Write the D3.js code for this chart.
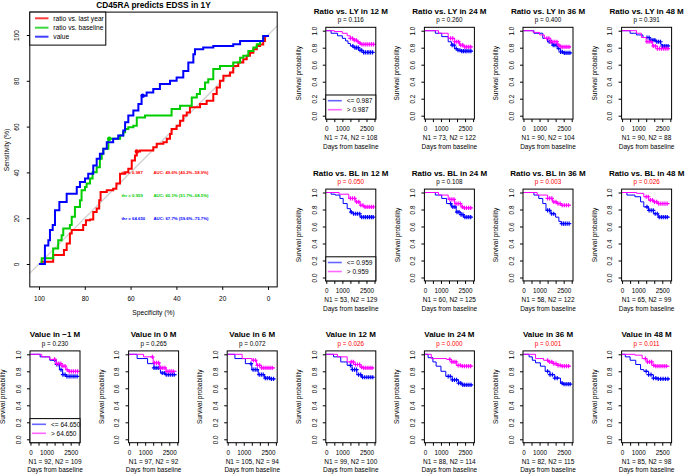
<!DOCTYPE html>
<html>
<head>
<meta charset="utf-8">
<script src="https://cdn.jsdelivr.net/npm/d3@7"></script>
<style>
  body { margin: 0; background: #fff; }
  svg { display: block; font-family: "Liberation Sans", Arial, sans-serif; }
</style>
</head>
<body>
<svg></svg>
<script>
// ---------- ROC data (specificity %, sensitivity %) ----------
const rocNames = ["ratio vs. last year", "ratio vs. baseline", "value"];
const rocRed = [[100,0],[98.8,1],[95.9,1],[93.8,3.9],[90.1,3.9],[89.1,6.1],[87.9,9],[86.5,13.3],[85.7,14.8],[82.1,14.8],[80.7,17],[79.5,19.1],[77.7,19.4],[76.3,22.7],[74.8,24.2],[73.7,27.8],[73.1,31.4],[70.4,32.2],[67.6,32.9],[66.2,35.1],[64.6,39.4],[62.4,40.1],[61,41.6],[59.5,45.2],[58.1,47.4],[57.3,49.1],[55.9,49.6],[52.3,49.6],[50.1,51],[48.6,52.5],[45.7,53.2],[44.2,54.7],[42.8,56.8],[42.1,59],[39.9,60.4],[38.4,62.6],[37,64.8],[35.5,66.2],[34.1,68.4],[29.7,69.9],[26.8,71.3],[23.9,74.2],[22.4,77.1],[21,80],[19.5,82.2],[16.6,83.6],[15.2,86.5],[13,88],[10.8,89.4],[9.3,90.9],[7.9,92.3],[6.4,93.8],[4.9,95.2],[3.5,95.9],[2.1,97.4],[1.3,99.6],[0,100]];
const rocGreen = [[100,0],[98.8,2.5],[95.2,2.5],[93.8,6.8],[91.6,10.4],[90.1,12.6],[89.4,15.5],[86.5,17],[85.7,20.6],[84.3,24.9],[82.1,27.8],[81.4,32.2],[79.9,33.6],[79.2,35.1],[77.7,37.3],[76.6,40.1],[74.8,42.3],[73.4,46],[72.6,48.1],[71.9,50.3],[69.7,54.7],[66.8,54.7],[64.6,56.1],[63.2,57.5],[62.4,59],[61,59.7],[58.8,60.4],[57.3,64],[53.7,64.8],[42.8,64.8],[42.1,67.7],[38.4,69.1],[33.3,71.3],[33.3,72.7],[31.1,74.2],[29.7,76.4],[27.5,79.3],[26.1,80.7],[23.9,83.6],[23.9,85.1],[21,86.5],[16.6,86.5],[15.2,88],[12.2,90.1],[10.8,90.9],[8.6,93],[6.4,94.5],[4.9,96],[3.5,97.4],[2.1,99.6],[0,100]];
const rocBlue = [[100,0],[97.4,8.1],[95.9,10.4],[95.2,14.8],[94,17],[93,23.5],[91.1,27.1],[87.9,30.7],[83.5,33.6],[82.1,35.8],[79.9,37.3],[78.5,39.4],[76.3,43],[74.8,46],[73.4,48.1],[71.9,50.3],[70.4,53.2],[67.6,54.7],[65.4,56.1],[63.2,58.3],[62.4,61.9],[61,64.8],[58.8,67],[56.6,69.9],[55.2,73.5],[53,74.9],[50.1,76.4],[47.2,78.6],[42.8,80],[39.9,81.4],[37,84.3],[34.8,88],[32.6,91.6],[31.9,93.8],[28.3,94.5],[23.9,95.2],[15.2,96],[12.2,97.4],[3.5,97.4],[2.1,99.6],[0,100]];
const rocThr = [[57.3,49.1],[69.3,54.7],[54.7,73.5]];
const rocThrLabels = ["thr = 0.987", "thr = 0.959", "thr = 64.650"];
const rocAuc = ["AUC: 49.6% (40.2%..58.9%)", "AUC: 60.1% (51.7%..68.5%)", "AUC: 67.7% (59.6%..75.7%)"];
const rocTicks = [0, 20, 40, 60, 80, 100];

// ---------- Kaplan-Meier panels ----------
const kmTitles = ["Ratio vs. LY in 12 M","Ratio vs. LY in 24 M","Ratio vs. LY in 36 M","Ratio vs. LY in 48 M",
  "Ratio vs. BL in 12 M","Ratio vs. BL in 24 M","Ratio vs. BL in 36 M","Ratio vs. BL in 48 M",
  "Value in \u22121 M","Value in 0 M","Value in 6 M","Value in 12 M","Value in 24 M","Value in 36 M","Value in 48 M"];
const kmPvalues = ["0.116","0.260","0.400","0.391","0.050","0.108","0.003","0.026","0.230","0.265","0.072","0.026","0.000","0.001","0.011"];
const kmN = [[74,108],[73,122],[90,104],[90,88],[53,129],[60,125],[58,122],[65,99],[92,109],[97,92],[105,94],[99,100],[88,114],[82,115],[85,98]];
const kmLegendPanels = [0, 4, 8];
const kmCutoffs = ["0.987", "0.959", "64.650"];
const kmYTicks = [0, 0.2, 0.4, 0.6, 0.8, 1];
const kmXTicks = [0, 500, 1000, 1500, 2000, 2500, 3000];
const kmXLabels = ["0", "", "1000", "", "", "2500", ""];

// [day, survival after that day]
const kmBlue = [
  [[0,1],[300,.97],[700,.94],[1000,.91],[1200,.88],[1350,.85],[1500,.82],[1750,.80],[2000,.77],[2300,.745],[2950,.745]],
  [[0,1],[650,.97],[1050,.93],[1450,.87],[1650,.83],[1850,.79],[2050,.77],[2200,.76],[2950,.76]],
  [[0,1],[650,.97],[1200,.91],[1500,.87],[1800,.83],[2100,.79],[2300,.75],[2450,.74],[2950,.74]],
  [[0,1],[500,.97],[900,.95],[1300,.92],[1700,.89],[2100,.87],[2400,.84],[2500,.82],[2950,.82]],
  [[0,1],[300,.98],[550,.97],[850,.93],[1050,.87],[1300,.81],[1500,.77],[1700,.75],[2100,.71],[2950,.71]],
  [[0,1],[650,.97],[1050,.93],[1350,.87],[1650,.83],[1950,.77],[2250,.74],[2400,.71],[2950,.71]],
  [[0,1],[650,.97],[950,.93],[1200,.87],[1400,.79],[1700,.75],[2000,.71],[2200,.66],[2350,.635],[2950,.635]],
  [[0,1],[300,.97],[800,.95],[1150,.89],[1350,.83],[1650,.79],[1950,.75],[2250,.71],[2950,.71]],
  [[0,1],[600,.97],[1200,.93],[1600,.88],[1800,.82],[2000,.76],[2200,.74],[2950,.74]],
  [[0,1],[500,.95],[1150,.89],[1550,.84],[1950,.78],[2250,.76],[2950,.76]],
  [[0,1],[450,.95],[1100,.89],[1500,.82],[1900,.76],[2300,.72],[2600,.71],[2950,.71]],
  [[0,1],[450,.97],[900,.91],[1300,.87],[1600,.82],[1900,.76],[2200,.73],[2950,.73]],
  [[0,1],[200,.96],[500,.91],[700,.86],[1000,.80],[1300,.74],[1700,.70],[2100,.66],[2350,.64],[2950,.64]],
  [[0,1],[350,.97],[550,.93],[750,.90],[1050,.86],[1350,.80],[1650,.76],[1950,.72],[2300,.66],[2450,.65],[2950,.65]],
  [[0,1],[200,.97],[500,.93],[850,.88],[1150,.82],[1350,.80],[1650,.76],[1950,.72],[2250,.71],[2950,.71]]
];
const kmPink = [
  [[0,1],[500,.99],[1000,.97],[1300,.94],[1500,.91],[1700,.89],[1900,.87],[2100,.85],[2200,.84],[2950,.84]],
  [[0,1],[850,.97],[1450,.91],[1850,.87],[2150,.83],[2450,.81],[2950,.81]],
  [[0,1],[600,.98],[1000,.95],[1300,.91],[1700,.87],[2100,.83],[2300,.81],[2950,.81]],
  [[0,1],[900,.97],[1200,.92],[1500,.87],[1900,.82],[2200,.79],[2950,.79]],
  [[0,1],[800,.98],[1400,.93],[1800,.89],[2100,.85],[2300,.83],[2950,.83]],
  [[0,1],[850,.97],[1450,.92],[1850,.87],[2250,.83],[2400,.82],[2950,.82]],
  [[0,1],[850,.97],[1500,.93],[1800,.89],[2100,.87],[2300,.85],[2950,.85]],
  [[0,1],[900,.99],[1350,.95],[1650,.91],[1950,.89],[2250,.87],[2950,.87]],
  [[0,1],[700,.97],[1200,.94],[1600,.89],[1900,.86],[2200,.82],[2400,.80],[2950,.80]],
  [[0,1],[900,.97],[1500,.90],[1900,.84],[2300,.80],[2950,.80]],
  [[0,1],[900,.95],[1500,.93],[1800,.87],[2100,.84],[2950,.84]],
  [[0,1],[700,.97],[1300,.91],[1700,.88],[2100,.85],[2300,.84],[2950,.84]],
  [[0,1],[400,.95],[1350,.94],[1650,.91],[1950,.87],[2250,.86],[2950,.86]],
  [[0,1],[750,.95],[1250,.93],[1550,.91],[1850,.89],[2150,.87],[2400,.86],[2950,.86]],
  [[0,1],[800,.99],[1250,.95],[1550,.91],[1850,.87],[2050,.86],[2950,.86]]
];
// censored observation days
const kmBlueCens = [
  [1650,1780,1880,1990,2100,2200,2320,2430,2550,2650,2760,2880],
  [1700,1820,1950,2060,2180,2290,2400,2510,2620,2740,2860],
  [1600,1730,1850,1960,2080,2190,2310,2420,2540,2650,2770,2890],
  [1550,1680,1800,1920,2040,2160,2270,2390,2500,2620,2740,2860],
  [1550,1700,1830,1950,2080,2200,2330,2450,2570,2690,2810,2920],
  [1600,1740,1870,2000,2120,2250,2370,2490,2610,2730,2850],
  [1500,1620,1750,1880,2380,2490,2600,2720,2840],
  [1550,1680,1810,1940,2060,2190,2310,2440,2560,2690,2810],
  [1500,1640,1770,1900,2020,2150,2270,2400,2520,2650,2770,2900],
  [1550,1680,1810,1940,2060,2190,2310,2440,2560,2690,2810],
  [1450,1580,1710,1830,1960,2090,2210,2340,2460,2590,2720,2850],
  [1500,1630,1760,1880,2010,2140,2260,2390,2520,2640,2770,2890],
  [1450,1580,1710,1840,1970,2100,2230,2360,2480,2610,2740,2870],
  [1500,1650,1800,1950,2100,2400,2520,2650,2780,2900],
  [1500,1650,1800,1950,2100,2250,2400,2550,2700,2850]
];
const kmPinkCens = [
  [1500,1620,1740,1860,1980,2100,2220,2340,2460,2580,2700,2820,2940],
  [1600,1730,1850,1980,2100,2230,2350,2480,2600,2730,2850],
  [1450,1580,1700,1830,1950,2080,2200,2330,2450,2580,2700,2830],
  [1550,1680,1810,1940,2070,2200,2330,2460,2590,2720,2850],
  [1500,1630,1760,1890,2020,2150,2280,2410,2540,2670,2800,2930],
  [1550,1680,1810,1940,2070,2200,2330,2460,2590,2720,2850],
  [1500,1630,1760,1890,2020,2150,2280,2410,2540,2670,2800],
  [1500,1630,1760,1890,2020,2150,2280,2410,2540,2670,2800],
  [1500,1630,1760,1890,2020,2150,2280,2410,2540,2670,2800,2930],
  [1450,1580,1710,1840,1970,2100,2230,2360,2490,2620,2750],
  [1600,1730,1860,1990,2120,2250,2380,2510,2640,2770],
  [1550,1680,1810,1940,2070,2200,2330,2460,2590,2720,2850],
  [1550,1680,1810,1940,2070,2200,2330,2460,2590,2720,2850],
  [1500,1630,1760,1890,2020,2150,2280,2410,2540,2670,2800],
  [1450,1580,1710,1840,1970,2100,2230,2360,2490,2620,2750]
];

const width = 685;
const height = 474;
const FONT = '"Liberation Sans", Arial, sans-serif';
const BLUE = "#0000ff", PINK = "#ff00ff";

const svg = d3.select("svg").attr("width", width).attr("height", height);

const rotLabels = (g, offset, fs) => {
  g.select(".domain").remove();
  g.attr("font-family", FONT).attr("font-size", fs);
  g.selectAll("line").attr("stroke", "#000");
  g.selectAll("text")
    .attr("x", null)
    .attr("dy", null)
    .attr("fill", "#000")
    .attr("text-anchor", "middle")
    .attr("transform", `translate(${-offset},0) rotate(-90)`);
};

const text = (g, x, y, s, fs, opts = {}) =>
  g.append("text")
    .attr("x", x).attr("y", y)
    .attr("font-size", fs)
    .attr("font-weight", opts.bold ? "bold" : null)
    .attr("fill", opts.fill || "#000")
    .attr("text-anchor", opts.anchor || "middle")
    .attr("dominant-baseline", "central")
    .attr("transform", opts.rotate ? `rotate(-90,${x},${y})` : null)
    .text(s);

// ---------- ROC ----------
const drawRoc = () => {
  const x = d3.scaleLinear().domain([104, -4]).range([29.8, 277.2]);
  const y = d3.scaleLinear().domain([-10, 110]).range([286.9, 12.1]);
  const g = svg.append("g");

  g.append("line")
    .attr("x1", x(104)).attr("y1", y(-4)).attr("x2", x(-4)).attr("y2", y(104))
    .attr("stroke", "#d0d0d0").attr("stroke-width", 1.3);

  const line = d3.line().x((d) => x(d[0])).y((d) => y(d[1])).curve(d3.curveStepAfter);
  const series = [rocRed, rocGreen, rocBlue];
  const cols = ["#ff0000", "#00cd00", "#0000ff"];
  series.forEach((s, i) => {
    g.append("path").attr("d", line(s)).attr("fill", "none")
      .attr("stroke", cols[i]).attr("stroke-width", 2).attr("stroke-linejoin", "miter");
  });
  rocThr.forEach((d, i) => {
    g.append("circle").attr("cx", x(d[0])).attr("cy", y(d[1])).attr("r", 2.2).attr("fill", cols[i]);
  });
  const annY = [40, 30, 20];
  rocThrLabels.forEach((t, i) => {
    text(g, x(64), y(annY[i]), t, 4.3, { anchor: "start", fill: cols[i], bold: true });
    text(g, x(50), y(annY[i]), rocAuc[i], 4.3, { anchor: "start", fill: cols[i], bold: true });
  });

  g.append("rect")
    .attr("x", x(104)).attr("y", y(110))
    .attr("width", x(-4) - x(104)).attr("height", y(-10) - y(110))
    .attr("fill", "none").attr("stroke", "#000");

  g.append("g").attr("transform", `translate(0,${y(-10)})`)
    .call(d3.axisBottom(x).tickValues(rocTicks).tickSize(3).tickPadding(6))
    .call((a) => {
      a.select(".domain").remove();
      a.attr("font-family", FONT).attr("font-size", 6.5);
    });
  g.append("g").attr("transform", `translate(${x(104)},0)`)
    .call(d3.axisLeft(y).tickValues(rocTicks).tickSize(3))
    .call((a) => rotLabels(a, 10.8, 6.5));

  text(g, 153.5, 4.5, "CD45RA predicts EDSS in 1Y", 8.3, { bold: true });
  text(g, 153.5, 312, "Specificity (%)", 6.7);
  text(g, 6, 150, "Sensitivity (%)", 6.7, { rotate: true });

  // legend
  g.append("rect").attr("x", x(104)).attr("y", y(110)).attr("width", 76).attr("height", 33)
    .attr("fill", "#fff").attr("stroke", "#000");
  const legY = [18.3, 27.7, 36.7];
  rocNames.forEach((n, i) => {
    g.append("line").attr("x1", 35).attr("x2", 48.5).attr("y1", legY[i]).attr("y2", legY[i])
      .attr("stroke", cols[i]).attr("stroke-width", 2).attr("opacity", 0.75);
    text(g, 53.3, legY[i], n, 6.7, { anchor: "start" });
  });
};

// ---------- KM panels ----------
const survAt = (steps, t) => {
  let s = steps[0][1];
  steps.forEach((d) => { if (d[0] <= t) s = d[1]; });
  return s;
};

const drawKm = (i) => {
  const col = i < 8 ? 3 + (i % 4) : i - 8;
  const row = i < 8 ? Math.floor(i / 4) : 2;
  const L = 30 + col * 98.6;
  const y1 = 30.7 + row * 161.8;
  const y0 = y1 + 85;
  const cx = L + 25;

  const x = d3.scaleLinear().domain([-30, 3080]).range([L, L + 50]);
  const y = d3.scaleLinear().domain([0, 1]).range([y0, y1]);
  const g = svg.append("g");

  const line = d3.line().x((d) => x(d[0])).y((d) => y(d[1])).curve(d3.curveStepAfter);
  [[kmBlue[i], kmBlueCens[i], BLUE], [kmPink[i], kmPinkCens[i], PINK]].forEach(([steps, cens, c]) => {
    g.append("path").attr("d", line(steps)).attr("fill", "none").attr("stroke", c).attr("stroke-width", 1);
    g.append("path")
      .attr("d", cens.map((t) => {
        const px = x(t), py = y(survAt(steps, t));
        return `M${px - 2.1},${py}h4.2M${px},${py - 2.1}v4.2`;
      }).join(""))
      .attr("fill", "none").attr("stroke", c).attr("stroke-width", 1.2);
  });

  const top = y(1.04), bot = y(-0.04);
  g.append("rect").attr("x", L).attr("y", top).attr("width", 50).attr("height", bot - top)
    .attr("fill", "none").attr("stroke", "#000");

  g.append("g").attr("transform", `translate(0,${bot})`)
    .call(d3.axisBottom(x).tickValues(kmXTicks).tickSize(3).tickPadding(4.6)
      .tickFormat((d, k) => kmXLabels[k]))
    .call((a) => {
      a.select(".domain").remove();
      a.attr("font-family", FONT).attr("font-size", 6.3);
    });
  g.append("g").attr("transform", `translate(${L},0)`)
    .call(d3.axisLeft(y).tickValues(kmYTicks).tickSize(3).tickFormat(d3.format(".1f")))
    .call((a) => rotLabels(a, 9.2, 6.3));

  const p = kmPvalues[i];
  text(g, cx, y1 - 19.5, kmTitles[i], 8, { bold: true });
  text(g, cx, y1 - 11, `p = ${p}`, 6.3, { fill: +p <= 0.05 ? "#ff0000" : "#000" });
  text(g, cx, y0 + 22, `N1 = ${kmN[i][0]}, N2 = ${kmN[i][1]}`, 6.5);
  text(g, cx, y0 + 30.5, "Days from baseline", 6.5);
  text(g, L - 27.4, (y0 + y1) / 2, "Survival probability", 6.5, { rotate: true });

  const li = kmLegendPanels.indexOf(i);
  if (li >= 0) {
    const lt = y0 - 20.7;
    g.append("rect").attr("x", L).attr("y", lt).attr("width", 50).attr("height", bot - lt)
      .attr("fill", "#fff").attr("stroke", "#000");
    [[BLUE, `<= ${kmCutoffs[li]}`, y0 - 15], [PINK, `> ${kmCutoffs[li]}`, y0 - 6]].forEach(([c, s, ly]) => {
      g.append("line").attr("x1", L + 2).attr("x2", L + 16).attr("y1", ly).attr("y2", ly)
        .attr("stroke", c).attr("stroke-width", 1.6).attr("opacity", 0.6);
      text(g, L + 21, ly, s, 6.5, { anchor: "start" });
    });
  }
};

drawRoc();
kmTitles.forEach((t, i) => drawKm(i));
</script>
</body>
</html>
